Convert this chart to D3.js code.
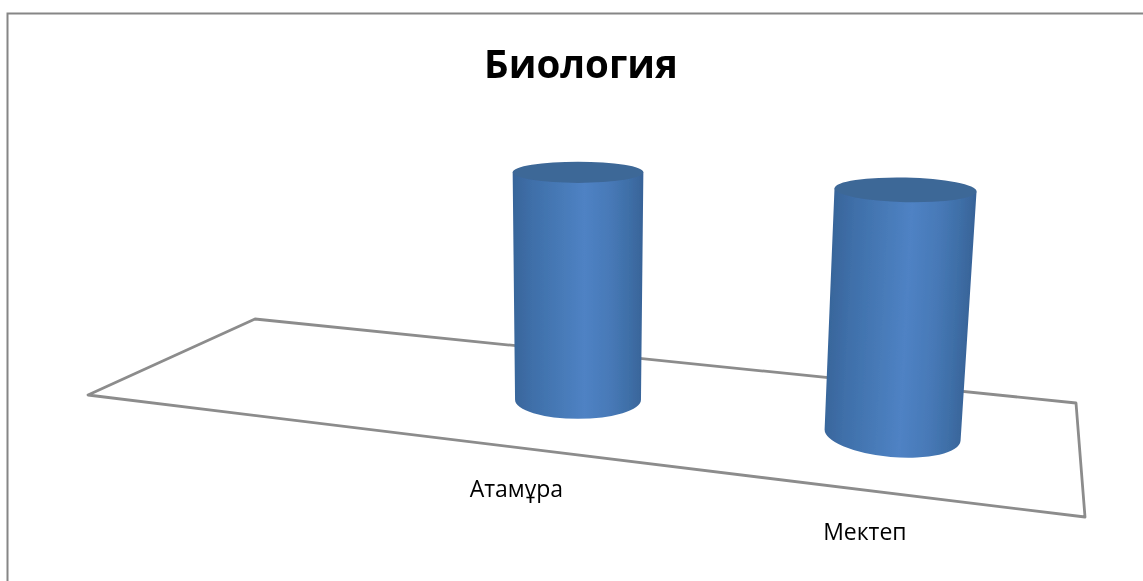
<!DOCTYPE html>
<html>
<head>
<meta charset="utf-8">
<script src="https://cdn.jsdelivr.net/npm/d3@7"></script>
<style>
html,body{margin:0;padding:0;background:#fff;overflow:hidden}
text{font-family:"Open Sans",Lato,sans-serif;fill:#000}
</style>
</head>
<body>
<svg id="chart" width="1143" height="581"></svg>
<script>
const titleText = "Биология";
const categories = ["", "Атамұра", "Мектеп"];
const values = [null, 1, 1];

const svg = d3.select("#chart");
const defs = svg.append("defs");
defs.append("filter").attr("id","soft").attr("x","-5%").attr("y","-5%").attr("width","110%").attr("height","110%")
  .append("feGaussianBlur").attr("stdDeviation",0.5);
defs.append("filter").attr("id","softText").attr("x","-5%").attr("y","-20%").attr("width","110%").attr("height","140%")
  .append("feGaussianBlur").attr("stdDeviation",0.3);

// Floor quad in the picture: front-left, front-right, back-right, back-left
const FL=[88,395], FR=[1085,517], BR=[1076,403], BL=[255,319];
const den=(FR[0]-BR[0])*(BL[1]-BR[1])-(BL[0]-BR[0])*(FR[1]-BR[1]);
const sx=FL[0]-FR[0]+BR[0]-BL[0], sy=FL[1]-FR[1]+BR[1]-BL[1];
const g=(sx*(BL[1]-BR[1])-(BL[0]-BR[0])*sy)/den;
const h=((FR[0]-BR[0])*sy-sx*(FR[1]-BR[1]))/den;
function depth(u,v){return g*u+h*v+1;}
function floorPoint(u,v){
  const w=depth(u,v);
  return [
    ((FR[0]-FL[0]+g*FR[0])*u+(BL[0]-FL[0]+h*BL[0])*v+FL[0])/w,
    ((FR[1]-FL[1]+g*FR[1])*u+(BL[1]-FL[1]+h*BL[1])*v+FL[1])/w
  ];
}

// Scales
const x = d3.scaleBand().domain(categories).range([-0.0097,0.9857]);
const heightScale = d3.scaleLinear().domain([0,1]).range([0,0.0387]);
const flatness = d3.scaleLinear().domain([172.5,400]).range([0.162,0.304]);
const radiusPx = 64.3, VP=[578,6400], perspectivePow=1.35;
const tiltAt=(px,py)=>(px-VP[0])*(py-110)*4.87e-5;

// Frame
svg.append("path").attr("d","M7.5,581V13.5H1143").attr("fill","none").attr("stroke","#868686").attr("stroke-width",2);

// Floor
svg.append("path").attr("d",d3.line()([FL,FR,BR,BL])+"Z")
  .attr("fill","#fff").attr("stroke","#8c8c8c").attr("stroke-width",2.8).attr("stroke-linejoin","round")
  .attr("filter","url(#soft)");

function ends(c,rx,rot){
  const a=rot*Math.PI/180;
  return [[c[0]-rx*Math.cos(a),c[1]-rx*Math.sin(a)],[c[0]+rx*Math.cos(a),c[1]+rx*Math.sin(a)]];
}

const data = categories.map((c,i)=>({c,v:values[i]}));
const bars = svg.selectAll("g.cyl").data(data.filter(d=>d.v!=null)).join("g").attr("class","cyl").attr("filter","url(#soft)");
bars.each(function(d,i){
  const u=x(d.c)+x.bandwidth()/2, v=0.48;
  const w=depth(u,v), f=Math.pow(w,-perspectivePow);
  const base=floorPoint(u,v);
  const t=heightScale(d.v)*f;
  const top=[base[0]+(base[0]-VP[0])*t, base[1]+(base[1]-VP[1])*t];
  const rxB=radiusPx*f, rxT=rxB*(1+t);
  const ryB=rxB*flatness(base[1]), ryT=rxT*flatness(top[1]);
  const rotB=tiltAt(base[0],base[1]), rotT=tiltAt(top[0],top[1]);
  const [bl,br]=ends(base,rxB,rotB), [tl,tr]=ends(top,rxT,rotT);
  const id="cylGrad"+i;
  const span=tr[0]-tl[0], lean=(base[0]-top[0])/(base[1]-top[1]);
  const gr=defs.append("linearGradient").attr("id",id).attr("gradientUnits","userSpaceOnUse")
    .attr("x1",tl[0]).attr("y1",tl[1]).attr("x2",tl[0]+span).attr("y2",tl[1]-span*lean);
  [[0,"#38659a"],[0.15,"#3f6fa9"],[0.35,"#4679b6"],[0.55,"#4f82c4"],[0.75,"#4779b7"],[0.9,"#3e6ea6"],[1,"#386398"]]
    .forEach(s=>gr.append("stop").attr("offset",s[0]).attr("stop-color",s[1]));
  const g3=d3.select(this);
  g3.append("path")
    .attr("d",`M${tl}L${bl}A${rxB},${ryB} ${rotB} 0 0 ${br}L${tr}Z`)
    .attr("fill",`url(#${id})`);
  g3.append("ellipse").attr("cx",top[0]).attr("cy",top[1]).attr("rx",rxT).attr("ry",ryT)
    .attr("transform",`rotate(${rotT} ${top[0]} ${top[1]})`).attr("fill","#3e6797");
});

// Category labels
svg.selectAll("text.cat").data(data.filter(d=>d.c)).join("text").attr("class","cat")
  .attr("text-anchor","middle").attr("font-size",23).attr("filter","url(#softText)")
  .attr("x",d=>floorPoint(x(d.c)+x.bandwidth()/2,0)[0]-10)
  .attr("y",d=>floorPoint(x(d.c)+x.bandwidth()/2,0)[1]+48.5)
  .text(d=>d.c);

// Title
svg.append("text").attr("x",581).attr("y",78).attr("text-anchor","middle").attr("filter","url(#softText)")
  .attr("font-size",38.5).attr("font-weight",700).text(titleText);
</script>
</body>
</html>
